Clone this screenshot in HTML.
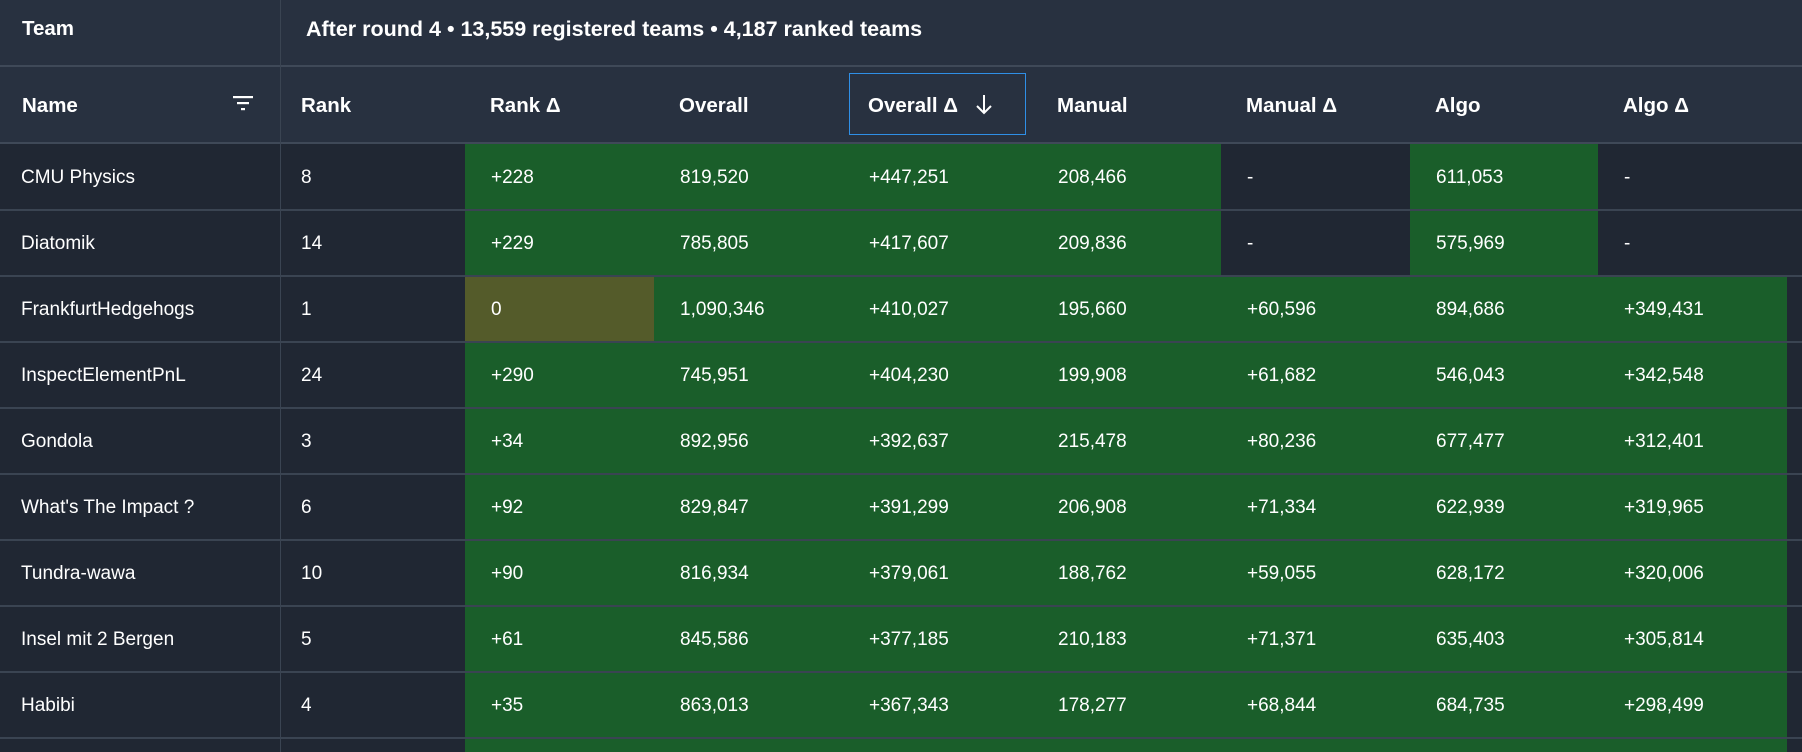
<!DOCTYPE html>
<html><head><meta charset="utf-8">
<style>
html,body{margin:0;padding:0;background:#202733;width:1802px;height:752px;overflow:hidden;font-family:"Liberation Sans",sans-serif;color:#fff}
#t{position:relative;width:1802px;height:752px;overflow:hidden}
.c{position:absolute;box-sizing:border-box;display:flex;align-items:center;white-space:nowrap}
.h{background:#283140;font-weight:bold;font-size:20.5px}
.d{font-size:19px}
.hl{position:absolute;height:2px;background:#3a4452;left:0;width:1802px}
.vl{position:absolute;width:1px;background:#3a4452}
</style></head><body>
<div id="t">
<div class="c h" style="left:0;top:0;width:280px;height:58px;padding-left:22px">Team</div>
<div class="c h" style="left:281px;top:0;width:1521px;height:58px;padding-left:25px;font-size:21.5px">After round 4 • 13,559 registered teams • 4,187 ranked teams</div>
<div class="c h" style="left:0;top:58px;width:1802px;height:8px"></div>
</div>
<script>
const headers=["Name","Rank","Rank Δ","Overall","Overall Δ","Manual","Manual Δ","Algo","Algo Δ"];
const names=["CMU Physics","Diatomik","FrankfurtHedgehogs","InspectElementPnL","Gondola","What's The Impact ?","Tundra-wawa","Insel mit 2 Bergen","Habibi",""];
const ranks=["8","14","1","24","3","6","10","5","4",""];
const rankDelta=["+228","+229","0","+290","+34","+92","+90","+61","+35",""];
const overall=["819,520","785,805","1,090,346","745,951","892,956","829,847","816,934","845,586","863,013",""];
const overallDelta=["+447,251","+417,607","+410,027","+404,230","+392,637","+391,299","+379,061","+377,185","+367,343",""];
const manual=["208,466","209,836","195,660","199,908","215,478","206,908","188,762","210,183","178,277",""];
const manualDelta=["-","-","+60,596","+61,682","+80,236","+71,334","+59,055","+71,371","+68,844",""];
const algo=["611,053","575,969","894,686","546,043","677,477","622,939","628,172","635,403","684,735",""];
const algoDelta=["-","-","+349,431","+342,548","+312,401","+319,965","+320,006","+305,814","+298,499",""];
const cols=[names,ranks,rankDelta,overall,overallDelta,manual,manualDelta,algo,algoDelta];
const colNames=["name","rank","rank-delta","overall","overall-delta","manual","manual-delta","algo","algo-delta"];
const t=document.getElementById('t');
const xs=[0,281,465,654,843,1032,1221,1410,1598,1787];
const rowTop=i=>144+i*66;
function bg(col,i,v){
  if(col<2) return '#202733';
  if(v==='-') return '#202733';
  if(col===2 && v==='0') return '#545b2a';
  return '#1a5e2a';
}
for(let k=0;k<headers.length;k++){
  const h=document.createElement('div');
  h.className='c h';
  
  
  const w=(k===headers.length-1?1802:xs[k+1])-xs[k];
  h.style.cssText=`left:${xs[k]}px;top:66px;width:${w}px;height:76px;padding-left:${k===0?22:(k===1?20:25)}px;padding-top:3px;`;
  h.textContent=headers[k];
  t.appendChild(h);
}
const f=document.createElement('div');


f.style.cssText='position:absolute;left:233px;top:96px;width:20px;height:16px';
f.innerHTML='<svg width="20" height="16"><rect x="0" y="0" width="20" height="2.2" fill="#fff"/><rect x="4" y="6" width="12" height="2.2" fill="#fff"/><rect x="8" y="12" width="4" height="2.2" fill="#fff"/></svg>';
t.appendChild(f);
const sb=document.createElement('div');


sb.style.cssText='position:absolute;left:849px;top:73px;width:177px;height:62px;border:1.5px solid #2f8fe6;box-sizing:border-box';
t.appendChild(sb);
const ar=document.createElement('div');


ar.style.cssText='position:absolute;left:975px;top:94px;width:18px;height:22px';
ar.innerHTML='<svg width="18" height="22"><path d="M9 1 V19 M2 12 L9 19 L16 12" stroke="#fff" stroke-width="2" fill="none"/></svg>';
t.appendChild(ar);
for(let i=0;i<names.length;i++){
  const last=i===names.length-1;
  for(let k=0;k<cols.length;k++){
    const v=cols[k][i];
    const c=document.createElement('div');
    c.className='c d';
    
    
    c.style.cssText=`left:${xs[k]}px;top:${rowTop(i)}px;width:${xs[k+1]-xs[k]}px;height:${last?752-rowTop(i):65}px;padding-left:${k===0?21:(k===1?20:26)}px;padding-top:2px;background:${last&&k>=2?'#1a5e2a':bg(k,i,v)};`;
    c.textContent=v;
    t.appendChild(c);
  }
}
[65,142].forEach(y=>{const l=document.createElement('div');l.className='hl';l.style.top=y+'px';l.style.background='#3f4958';t.appendChild(l);});
for(let i=0;i<names.length-1;i++){const l=document.createElement('div');l.className='hl';l.style.top=(rowTop(i)+65)+'px';t.appendChild(l);}
const v=document.createElement('div');v.className='vl';v.style.cssText+='left:280px;top:0;height:752px';t.appendChild(v);
</script>
</body></html>
